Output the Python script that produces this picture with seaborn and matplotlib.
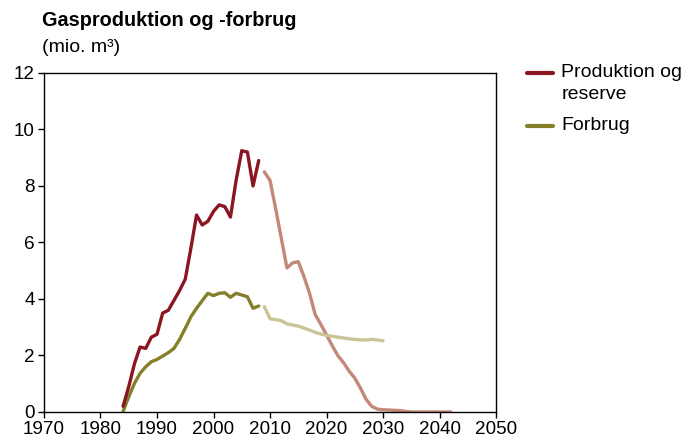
import pandas as pd
import numpy as np
import seaborn as sns
import matplotlib.pyplot as plt
from matplotlib.lines import Line2D

## data (mio. m3)
prod_years = list(range(1984, 2009))
prod_vals = [0.2, 0.9, 1.7, 2.3, 2.25, 2.65, 2.75, 3.5, 3.6, 3.95, 4.3, 4.7, 5.8, 6.97,
             6.62, 6.75, 7.1, 7.33, 7.27, 6.9, 8.2, 9.25, 9.2, 8.0, 8.9]

cons_years = list(range(1984, 2009))
cons_vals = [0.02, 0.54, 1.01, 1.37, 1.6, 1.78, 1.86, 1.98, 2.1, 2.25, 2.57, 2.96, 3.37,
             3.67, 3.94, 4.2, 4.12, 4.2, 4.22, 4.06, 4.2, 4.14, 4.08, 3.67, 3.75]

prod_fc_years = list(range(2009, 2043))
prod_fc_vals = [8.5, 8.2, 7.2, 6.15, 5.1, 5.28, 5.32, 4.8, 4.2, 3.45, 3.1, 2.73, 2.35, 2.0,
                1.75, 1.45, 1.2, 0.85, 0.45, 0.2, 0.1, 0.08, 0.07, 0.06, 0.05, 0.02,
                0.0, 0.0, 0.0, 0.0, 0.0, 0.0, 0.0, 0.0]

cons_fc_years = list(range(2009, 2031))
cons_fc_vals = [3.73, 3.3, 3.27, 3.23, 3.12, 3.08, 3.04, 2.97, 2.9, 2.82, 2.76, 2.71, 2.68,
                2.65, 2.62, 2.59, 2.57, 2.55, 2.55, 2.57, 2.55, 2.52]

legend_labels = ["Produktion og", "reserve", "Forbrug"]

c_prod = "#8b1520"
c_prod_fc = "#c4887a"
c_cons = "#857f2a"
c_cons_fc = "#c9c596"

sns.set_style("white")
plt.rcParams['font.family'] = ['Liberation Sans', 'DejaVu Sans']
plt.rcParams['text.color'] = 'black'

fig = plt.figure(figsize=(6.94, 4.42), dpi=100)
ax = fig.add_axes([0.0634, 0.0679, 0.6513, 0.767])

sns.lineplot(x=prod_fc_years, y=prod_fc_vals, color=c_prod_fc, lw=2.4, ax=ax)
sns.lineplot(x=cons_fc_years, y=cons_fc_vals, color=c_cons_fc, lw=2.4, ax=ax)
sns.lineplot(x=cons_years, y=cons_vals, color=c_cons, lw=2.4, ax=ax)
sns.lineplot(x=prod_years, y=prod_vals, color=c_prod, lw=2.4, ax=ax)

ax.set_xlim(1970, 2050)
ax.set_ylim(0, 12)
ax.set_xticks(range(1970, 2051, 10))
ax.set_yticks(range(0, 13, 2))
ax.tick_params(axis='both', which='both', direction='out', length=4.5, width=1,
               labelsize=13.6, color='black', labelcolor='black',
               bottom=True, left=True, pad=2)
for s in ax.spines.values():
    s.set_color('black')
    s.set_linewidth(1)
ax.set_xlabel("")
ax.set_ylabel("")

fig.text(0.061, 0.953, "Gasproduktion og -forbrug", fontsize=14.3, fontweight='bold',
         va='center', ha='left')
fig.text(0.061, 0.892, "(mio. m³)", fontsize=14, va='center', ha='left')

## legend drawn by hand so the line sits on the first text row
fig.add_artist(Line2D([0.759, 0.797], [0.835, 0.835], color=c_prod, lw=3,
                      transform=fig.transFigure))
fig.add_artist(Line2D([0.759, 0.797], [0.716, 0.716], color=c_cons, lw=3,
                      transform=fig.transFigure))
fig.text(0.809, 0.835, legend_labels[0], fontsize=14, va='center', ha='left')
fig.text(0.809, 0.786, legend_labels[1], fontsize=14, va='center', ha='left')
fig.text(0.809, 0.716, legend_labels[2], fontsize=14, va='center', ha='left')

fig.savefig("out.png", dpi=100)
